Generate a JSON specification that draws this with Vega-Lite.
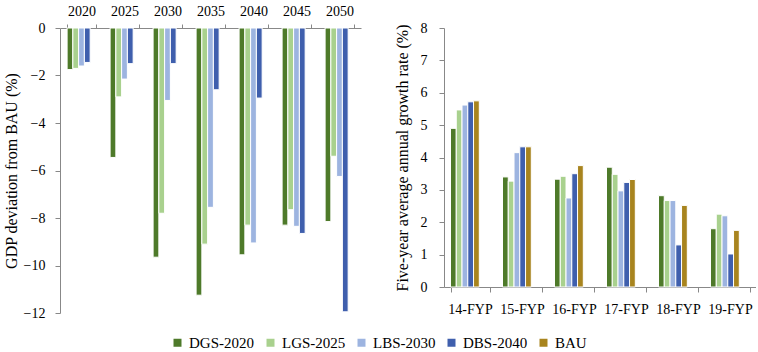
{
  "$schema": "https://vega.github.io/schema/vega-lite/v6.json",
  "padding": {"left": 3, "top": 4, "right": 0, "bottom": 2},
  "background": "white",
  "datasets": {
    "gdp": [
      {"year": "2020", "scenario": "DGS-2020", "value": -1.75},
      {"year": "2020", "scenario": "LGS-2025", "value": -1.7},
      {"year": "2020", "scenario": "LBS-2030", "value": -1.6},
      {"year": "2020", "scenario": "DBS-2040", "value": -1.45},
      {"year": "2025", "scenario": "DGS-2020", "value": -5.45},
      {"year": "2025", "scenario": "LGS-2025", "value": -2.9},
      {"year": "2025", "scenario": "LBS-2030", "value": -2.15},
      {"year": "2025", "scenario": "DBS-2040", "value": -1.5},
      {"year": "2030", "scenario": "DGS-2020", "value": -9.65},
      {"year": "2030", "scenario": "LGS-2025", "value": -7.8},
      {"year": "2030", "scenario": "LBS-2030", "value": -3.05},
      {"year": "2030", "scenario": "DBS-2040", "value": -1.5},
      {"year": "2035", "scenario": "DGS-2020", "value": -11.25},
      {"year": "2035", "scenario": "LGS-2025", "value": -9.1},
      {"year": "2035", "scenario": "LBS-2030", "value": -7.55},
      {"year": "2035", "scenario": "DBS-2040", "value": -2.6},
      {"year": "2040", "scenario": "DGS-2020", "value": -9.55},
      {"year": "2040", "scenario": "LGS-2025", "value": -8.3},
      {"year": "2040", "scenario": "LBS-2030", "value": -9.05},
      {"year": "2040", "scenario": "DBS-2040", "value": -2.95},
      {"year": "2045", "scenario": "DGS-2020", "value": -8.3},
      {"year": "2045", "scenario": "LGS-2025", "value": -7.65},
      {"year": "2045", "scenario": "LBS-2030", "value": -8.35},
      {"year": "2045", "scenario": "DBS-2040", "value": -8.65},
      {"year": "2050", "scenario": "DGS-2020", "value": -8.15},
      {"year": "2050", "scenario": "LGS-2025", "value": -5.4},
      {"year": "2050", "scenario": "LBS-2030", "value": -6.25},
      {"year": "2050", "scenario": "DBS-2040", "value": -11.95}
    ],
    "growth": [
      {"plan": "14-FYP", "scenario": "DGS-2020", "value": 4.9},
      {"plan": "14-FYP", "scenario": "LGS-2025", "value": 5.47},
      {"plan": "14-FYP", "scenario": "LBS-2030", "value": 5.62},
      {"plan": "14-FYP", "scenario": "DBS-2040", "value": 5.72},
      {"plan": "14-FYP", "scenario": "BAU", "value": 5.75},
      {"plan": "15-FYP", "scenario": "DGS-2020", "value": 3.4},
      {"plan": "15-FYP", "scenario": "LGS-2025", "value": 3.27},
      {"plan": "15-FYP", "scenario": "LBS-2030", "value": 4.15},
      {"plan": "15-FYP", "scenario": "DBS-2040", "value": 4.33},
      {"plan": "15-FYP", "scenario": "BAU", "value": 4.33},
      {"plan": "16-FYP", "scenario": "DGS-2020", "value": 3.33},
      {"plan": "16-FYP", "scenario": "LGS-2025", "value": 3.42},
      {"plan": "16-FYP", "scenario": "LBS-2030", "value": 2.75},
      {"plan": "16-FYP", "scenario": "DBS-2040", "value": 3.5},
      {"plan": "16-FYP", "scenario": "BAU", "value": 3.75},
      {"plan": "17-FYP", "scenario": "DGS-2020", "value": 3.7},
      {"plan": "17-FYP", "scenario": "LGS-2025", "value": 3.48},
      {"plan": "17-FYP", "scenario": "LBS-2030", "value": 2.97},
      {"plan": "17-FYP", "scenario": "DBS-2040", "value": 3.23},
      {"plan": "17-FYP", "scenario": "BAU", "value": 3.32},
      {"plan": "18-FYP", "scenario": "DGS-2020", "value": 2.82},
      {"plan": "18-FYP", "scenario": "LGS-2025", "value": 2.67},
      {"plan": "18-FYP", "scenario": "LBS-2030", "value": 2.67},
      {"plan": "18-FYP", "scenario": "DBS-2040", "value": 1.3},
      {"plan": "18-FYP", "scenario": "BAU", "value": 2.52},
      {"plan": "19-FYP", "scenario": "DGS-2020", "value": 1.8},
      {"plan": "19-FYP", "scenario": "LGS-2025", "value": 2.25},
      {"plan": "19-FYP", "scenario": "LBS-2030", "value": 2.2},
      {"plan": "19-FYP", "scenario": "DBS-2040", "value": 1.02},
      {"plan": "19-FYP", "scenario": "BAU", "value": 1.75}
    ]
  },
  "bounds": "flush",
  "spacing": 83,
  "hconcat": [
    {
      "width": 301,
      "height": 285,
      "data": {"name": "gdp"},
      "mark": {"type": "bar", "stroke": "white", "strokeWidth": 1},
      "encoding": {
        "x": {
          "field": "year", "type": "nominal",
          "scale": {"paddingInner": 0.33, "paddingOuter": 0.165},
          "axis": {"orient": "top", "title": null, "labelAngle": 0, "tickBand": "extent", "tickSize": 4, "labelPadding": 6}
        },
        "xOffset": {"field": "scenario", "type": "nominal", "sort": ["DGS-2020", "LGS-2025", "LBS-2030", "DBS-2040"]},
        "y": {
          "field": "value", "type": "quantitative",
          "scale": {"domain": [-12, 0], "nice": false},
          "axis": {"title": "GDP deviation from BAU (%)", "values": [0, -2, -4, -6, -8, -10, -12], "grid": false, "tickSize": 5, "labelPadding": 10, "titlePadding": 4}
        },
        "color": {
          "field": "scenario", "type": "nominal",
          "scale": {"domain": ["DGS-2020", "LGS-2025", "LBS-2030", "DBS-2040", "BAU"], "range": ["#4E7A2A", "#A9D18E", "#9DB4E0", "#3F5FAD", "#A8841E"]},
          "legend": {"title": null, "orient": "none", "legendX": 110, "legendY": 307, "direction": "horizontal", "symbolType": "square", "symbolSize": 64, "symbolStrokeWidth": 0, "columnPadding": 8, "labelOffset": 4, "labelFontSize": 15, "labelFont": "Liberation Serif", "padding": 0}
        }
      }
    },
    {
      "width": 312,
      "height": 259,
      "data": {"name": "growth"},
      "mark": {"type": "bar", "stroke": "white", "strokeWidth": 1},
      "encoding": {
        "x": {
          "field": "plan", "type": "nominal",
          "scale": {"paddingInner": 0.25, "paddingOuter": 0.125},
          "axis": {"title": null, "labelAngle": 0, "tickBand": "extent", "tickSize": 5, "labelPadding": 10}
        },
        "xOffset": {"field": "scenario", "type": "nominal", "sort": ["DGS-2020", "LGS-2025", "LBS-2030", "DBS-2040", "BAU"]},
        "y": {
          "field": "value", "type": "quantitative",
          "scale": {"domain": [0, 8], "nice": false},
          "axis": {"title": "Five-year average  annual growth rate (%)", "tickCount": 8, "grid": false, "tickSize": 5, "labelPadding": 12, "titlePadding": 10}
        },
        "color": {
          "field": "scenario", "type": "nominal",
          "scale": {"domain": ["DGS-2020", "LGS-2025", "LBS-2030", "DBS-2040", "BAU"], "range": ["#4E7A2A", "#A9D18E", "#9DB4E0", "#3F5FAD", "#A8841E"]}
        }
      }
    }
  ],
  "resolve": {"scale": {"color": "shared"}},
  "config": {
    "view": {"stroke": null},
    "font": "Liberation Serif",
    "axis": {
      "labelFont": "Liberation Serif", "titleFont": "Liberation Serif",
      "labelFontSize": 14, "titleFontSize": 16, "titleFontWeight": "normal", "labelFontWeight": "normal",
      "labelColor": "#000", "titleColor": "#000",
      "domainColor": "#888", "tickColor": "#888"
    },
    "legend": {"labelColor": "#000"}
  }
}
